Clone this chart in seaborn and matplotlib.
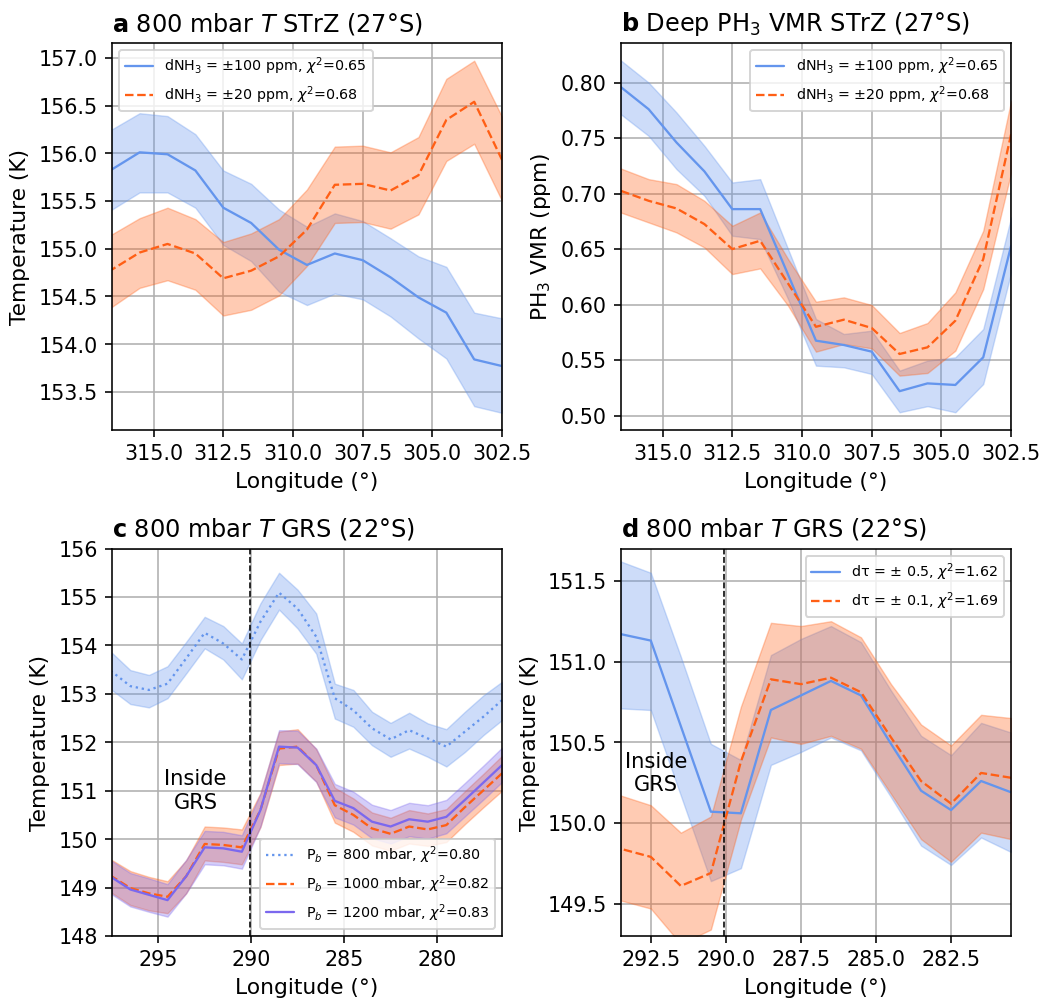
import numpy as np
import pandas as pd
import matplotlib
matplotlib.use("Agg")
import matplotlib.pyplot as plt
from matplotlib.ticker import FormatStrFormatter
import seaborn as sns

# ---------------- data ----------------
# STrZ (27°S) longitudes
lon_strz = [316.5, 315.5, 314.5, 313.5, 312.5, 311.5, 310.5, 309.5,
            308.5, 307.5, 306.5, 305.5, 304.5, 303.5, 302.5]

# panel a: 800 mbar temperature (K)
t_nh3_100 = [155.83, 156.01, 155.99, 155.82, 155.43, 155.27, 154.99, 154.83,
             154.95, 154.88, 154.70, 154.49, 154.33, 153.84, 153.77]
t_nh3_100_hi = [156.25, 156.42, 156.39, 156.20, 155.82, 155.68, 155.41, 155.23,
                155.37, 155.29, 155.11, 154.92, 154.81, 154.33, 154.27]
t_nh3_100_lo = [155.41, 155.59, 155.59, 155.43, 155.04, 154.87, 154.55, 154.41,
                154.53, 154.47, 154.29, 154.06, 153.85, 153.35, 153.28]
t_nh3_20 = [154.78, 154.96, 155.05, 154.95, 154.69, 154.77, 154.92, 155.20,
            155.67, 155.68, 155.61, 155.77, 156.35, 156.54, 155.93]
t_nh3_20_hi = [155.15, 155.32, 155.43, 155.31, 155.07, 155.16, 155.31, 155.62,
               156.07, 156.08, 156.01, 156.17, 156.78, 156.97, 156.38]
t_nh3_20_lo = [154.39, 154.59, 154.67, 154.57, 154.30, 154.36, 154.51, 154.82,
               155.27, 155.28, 155.21, 155.36, 155.92, 156.10, 155.50]

# panel b: deep PH3 VMR (ppm)
ph3_nh3_100 = [0.796, 0.776, 0.746, 0.720, 0.686, 0.686, 0.627, 0.5675,
               0.5636, 0.5576, 0.522, 0.529, 0.5276, 0.5525, 0.653]
ph3_nh3_100_hi = [0.820, 0.800, 0.773, 0.743, 0.710, 0.713, 0.650, 0.587,
                  0.5735, 0.5765, 0.5405, 0.5495, 0.5525, 0.578, 0.6785]
ph3_nh3_100_lo = [0.7715, 0.752, 0.722, 0.698, 0.662, 0.659, 0.605, 0.545,
                  0.5435, 0.5375, 0.503, 0.5085, 0.503, 0.5285, 0.629]
ph3_nh3_20 = [0.7025, 0.6935, 0.6866, 0.6725, 0.650, 0.6575, 0.619, 0.580,
              0.5864, 0.5789, 0.5555, 0.5615, 0.5855, 0.641, 0.7535]
ph3_nh3_20_hi = [0.7226, 0.713, 0.7085, 0.6935, 0.671, 0.683, 0.641, 0.6026,
                 0.6065, 0.5996, 0.5744, 0.5834, 0.611, 0.6665, 0.7835]
ph3_nh3_20_lo = [0.683, 0.674, 0.665, 0.6515, 0.6275, 0.6326, 0.599, 0.5576,
                 0.5645, 0.5606, 0.536, 0.5384, 0.5585, 0.614, 0.719]

# GRS (22°S) longitudes, panel c
lon_grs_c = [297.5, 296.5, 295.5, 294.5, 293.5, 292.5, 291.5, 290.5, 289.5,
             288.5, 287.5, 286.5, 285.5, 284.5, 283.5, 282.5, 281.5, 280.5,
             279.5, 278.5, 277.5, 276.5]

t_pb800 = [153.46, 153.16, 153.08, 153.21, 153.73, 154.26, 154.04, 153.71,
           154.49, 155.09, 154.76, 154.18, 152.91, 152.66, 152.29, 152.06,
           152.25, 152.08, 151.91, 152.22, 152.53, 152.87]
t_pb800_hi = [153.85, 153.49, 153.39, 153.57, 154.07, 154.59, 154.40, 154.04,
              154.87, 155.50, 155.15, 154.66, 153.21, 153.08, 152.63, 152.40,
              152.61, 152.39, 152.27, 152.63, 152.97, 153.25]
t_pb800_lo = [153.08, 152.79, 152.72, 152.91, 153.42, 153.94, 153.71, 153.30,
              154.11, 154.74, 154.35, 153.83, 152.49, 152.32, 151.94, 151.70,
              151.87, 151.70, 151.50, 151.80, 152.15, 152.46]

t_pb1000 = [149.23, 148.99, 148.88, 148.81, 149.23, 149.90, 149.88, 149.83,
            150.60, 151.87, 151.91, 151.53, 150.70, 150.50, 150.22, 150.11,
            150.26, 150.20, 150.29, 150.66, 151.01, 151.36]
t_pb1000_hi = [149.57, 149.34, 149.22, 149.13, 149.56, 150.26, 150.24, 150.20,
               150.95, 152.22, 152.27, 151.86, 151.06, 150.84, 150.55, 150.44,
               150.60, 150.53, 150.62, 150.99, 151.35, 151.72]
t_pb1000_lo = [148.89, 148.64, 148.53, 148.47, 148.88, 149.56, 149.53, 149.48,
               150.25, 151.53, 151.56, 151.19, 150.34, 150.15, 149.87, 149.76,
               149.91, 149.86, 149.94, 150.31, 150.66, 151.00]

t_pb1200 = [149.21, 148.96, 148.85, 148.74, 149.23, 149.83, 149.81, 149.74,
            150.60, 151.91, 151.89, 151.53, 150.79, 150.64, 150.36, 150.26,
            150.41, 150.36, 150.46, 150.81, 151.17, 151.53]
t_pb1200_hi = [149.55, 149.30, 149.19, 149.07, 149.57, 150.17, 150.15, 150.08,
               150.94, 152.25, 152.24, 151.87, 151.14, 150.98, 150.71, 150.60,
               150.75, 150.70, 150.81, 151.16, 151.52, 151.89]
t_pb1200_lo = [148.86, 148.61, 148.50, 148.40, 148.88, 149.48, 149.46, 149.39,
               150.26, 151.57, 151.55, 151.18, 150.45, 150.30, 150.02, 149.91,
               150.06, 150.01, 150.12, 150.47, 150.82, 151.18]

# GRS (22°S) longitudes, panel d
lon_grs_d = [293.5, 292.5, 291.5, 290.5, 289.5, 288.5, 287.5, 286.5,
             285.5, 284.5, 283.5, 282.5, 281.5, 280.5]

t_dtau05 = [151.17, 151.13, 150.60, 150.07, 150.06, 150.70, 150.79, 150.88,
            150.79, 150.49, 150.20, 150.08, 150.26, 150.19]
t_dtau05_hi = [151.62, 151.55, 151.03, 150.49, 150.39, 151.04, 151.14, 151.22,
               151.12, 150.82, 150.54, 150.42, 150.62, 150.56]
t_dtau05_lo = [150.71, 150.70, 150.17, 149.64, 149.72, 150.36, 150.44, 150.53,
               150.45, 150.16, 149.86, 149.74, 149.91, 149.82]
t_dtau01 = [149.84, 149.79, 149.61, 149.69, 150.38, 150.89, 150.86, 150.90,
            150.81, 150.53, 150.26, 150.12, 150.31, 150.28]
t_dtau01_hi = [150.17, 150.11, 149.94, 150.04, 150.72, 151.24, 151.22, 151.25,
               151.15, 150.86, 150.61, 150.48, 150.67, 150.65]
t_dtau01_lo = [149.52, 149.47, 149.25, 149.34, 150.02, 150.53, 150.49, 150.54,
               150.46, 150.18, 149.90, 149.76, 149.94, 149.90]

grs_edge = 290.07

# ---------------- style ----------------
sns.set_style("ticks", {"axes.grid": True, "grid.color": "#b0b0b0",
                        "axes.edgecolor": "black", "xtick.color": "black",
                        "ytick.color": "black", "axes.labelcolor": "black",
                        "text.color": "black"})
plt.rcParams["font.family"] = ["DejaVu Sans"]
plt.rcParams["mathtext.fontset"] = "dejavusans"
plt.rcParams["xtick.labelsize"] = 10.3
plt.rcParams["ytick.labelsize"] = 10.3
plt.rcParams["axes.labelsize"] = 10.9
plt.rcParams["legend.fontsize"] = 7.1
plt.rcParams["grid.linewidth"] = 0.8
plt.rcParams["axes.linewidth"] = 0.8
plt.rcParams["xtick.major.size"] = 3.5
plt.rcParams["ytick.major.size"] = 3.5
plt.rcParams["xtick.major.width"] = 0.8
plt.rcParams["ytick.major.width"] = 0.8
plt.rcParams["xtick.major.pad"] = 3.5
plt.rcParams["ytick.major.pad"] = 3.5
plt.rcParams["xtick.direction"] = "out"
plt.rcParams["ytick.direction"] = "out"

BLUE = "#6495ED"
ORANGE = "#FF5F15"
PURPLE = "#7B68EE"
ALPHA = 0.32
LW = 1.15
DPI = 144

fig, axes = plt.subplots(2, 2, figsize=(1039.4 / DPI, 1000.4 / DPI), dpi=DPI)
fig.subplots_adjust(left=0.1075, right=0.9728, bottom=0.064, top=0.957,
                    wspace=0.304, hspace=0.306)
ax_a, ax_b = axes[0]
ax_c, ax_d = axes[1]


def band(ax, x, y, lo, hi, color, ls, label):
    ax.fill_between(x, lo, hi, color=color, alpha=ALPHA, linewidth=0.7)
    sns.lineplot(x=x, y=y, ax=ax, color=color, linestyle=ls, linewidth=LW,
                 label=label)


# panel a
band(ax_a, lon_strz, t_nh3_100, t_nh3_100_lo, t_nh3_100_hi, BLUE, "-",
     r"dNH$_3$ = ±100 ppm, $\chi^2$=0.65")
band(ax_a, lon_strz, t_nh3_20, t_nh3_20_lo, t_nh3_20_hi, ORANGE, "--",
     r"dNH$_3$ = ±20 ppm, $\chi^2$=0.68")
ax_a.set_xlim(316.5, 302.5)
ax_a.set_ylim(153.10, 157.16)
ax_a.set_xticks([315.0, 312.5, 310.0, 307.5, 305.0, 302.5])
ax_a.set_yticks([153.5, 154.0, 154.5, 155.0, 155.5, 156.0, 156.5, 157.0])
ax_a.xaxis.set_major_formatter(FormatStrFormatter("%.1f"))
ax_a.yaxis.set_major_formatter(FormatStrFormatter("%.1f"))
ax_a.set_ylabel("Temperature (K)")
ax_a.set_title(r"$\bf{a}$ 800 mbar $T$ STrZ (27°S)", loc="left", fontsize=12)
ax_a.legend(loc="upper left")

# panel b
band(ax_b, lon_strz, ph3_nh3_100, ph3_nh3_100_lo, ph3_nh3_100_hi, BLUE, "-",
     r"dNH$_3$ = ±100 ppm, $\chi^2$=0.65")
band(ax_b, lon_strz, ph3_nh3_20, ph3_nh3_20_lo, ph3_nh3_20_hi, ORANGE, "--",
     r"dNH$_3$ = ±20 ppm, $\chi^2$=0.68")
ax_b.set_xlim(316.5, 302.5)
ax_b.set_ylim(0.487, 0.836)
ax_b.set_xticks([315.0, 312.5, 310.0, 307.5, 305.0, 302.5])
ax_b.set_yticks([0.50, 0.55, 0.60, 0.65, 0.70, 0.75, 0.80])
ax_b.xaxis.set_major_formatter(FormatStrFormatter("%.1f"))
ax_b.yaxis.set_major_formatter(FormatStrFormatter("%.2f"))
ax_b.set_ylabel(r"PH$_3$ VMR (ppm)")
ax_b.set_title(r"$\bf{b}$ Deep PH$_3$ VMR STrZ (27°S)", loc="left", fontsize=12)
ax_b.legend(loc="upper right")

# panel c
band(ax_c, lon_grs_c, t_pb800, t_pb800_lo, t_pb800_hi, BLUE, ":",
     r"P$_b$ = 800 mbar, $\chi^2$=0.80")
band(ax_c, lon_grs_c, t_pb1000, t_pb1000_lo, t_pb1000_hi, ORANGE, "--",
     r"P$_b$ = 1000 mbar, $\chi^2$=0.82")
band(ax_c, lon_grs_c, t_pb1200, t_pb1200_lo, t_pb1200_hi, PURPLE, "-",
     r"P$_b$ = 1200 mbar, $\chi^2$=0.83")
ax_c.axvline(grs_edge, color="black", linestyle="--", linewidth=0.8)
ax_c.text(293.0, 151.0, "Inside\nGRS", ha="center", va="center", fontsize=10.5,
          linespacing=1.2)
ax_c.set_xlim(297.5, 276.5)
ax_c.set_ylim(148, 156)
ax_c.set_xticks([295, 290, 285, 280])
ax_c.set_yticks(np.arange(148, 157, 1))
ax_c.set_xlabel("Longitude (°)")
ax_c.set_ylabel("Temperature (K)")
ax_c.set_title(r"$\bf{c}$ 800 mbar $T$ GRS (22°S)", loc="left", fontsize=12)
ax_c.legend(loc="lower right")

# panel d
band(ax_d, lon_grs_d, t_dtau05, t_dtau05_lo, t_dtau05_hi, BLUE, "-",
     r"dτ = ± 0.5, $\chi^2$=1.62")
band(ax_d, lon_grs_d, t_dtau01, t_dtau01_lo, t_dtau01_hi, ORANGE, "--",
     r"dτ = ± 0.1, $\chi^2$=1.69")
ax_d.axvline(grs_edge, color="black", linestyle="--", linewidth=0.8)
ax_d.text(292.32, 150.31, "Inside\nGRS", ha="center", va="center", fontsize=10.5,
          linespacing=1.2)
ax_d.set_xlim(293.5, 280.5)
ax_d.set_ylim(149.3, 151.7)
ax_d.set_xticks([292.5, 290.0, 287.5, 285.0, 282.5])
ax_d.set_yticks([149.5, 150.0, 150.5, 151.0, 151.5])
ax_d.xaxis.set_major_formatter(FormatStrFormatter("%.1f"))
ax_d.yaxis.set_major_formatter(FormatStrFormatter("%.1f"))
ax_d.set_xlabel("Longitude (°)")
ax_d.set_ylabel("Temperature (K)")
ax_d.set_title(r"$\bf{d}$ 800 mbar $T$ GRS (22°S)", loc="left", fontsize=12)
ax_d.legend(loc="upper right")

for ax in (ax_a, ax_b):
    ax.set_xlabel("Longitude (°)")

for ax in axes.flat:
    ax.set_axisbelow(True)

fig.savefig("out.png", dpi=DPI)
